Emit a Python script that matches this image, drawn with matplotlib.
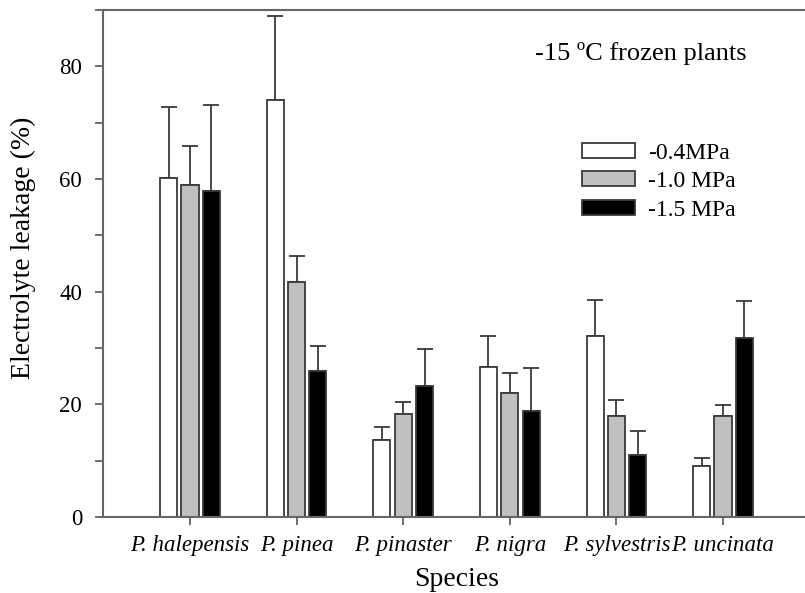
import matplotlib
matplotlib.use("Agg")
import matplotlib.pyplot as plt
import numpy as np
from matplotlib.patches import Patch
from matplotlib.ticker import MultipleLocator

species = ["P. halepensis", "P. pinea", "P. pinaster", "P. nigra", "P. sylvestris", "P. uncinata"]
series_labels = ["-0.4MPa", "-1.0 MPa", "-1.5 MPa"]
vals_04 = [60.2, 74.0, 13.6, 26.7, 32.2, 9.0]
err_04 = [12.5, 14.9, 2.4, 5.4, 6.4, 1.4]
vals_10 = [58.9, 41.8, 18.2, 22.1, 18.0, 18.0]
err_10 = [7.0, 4.5, 2.2, 3.4, 2.7, 1.9]
vals_15 = [57.8, 26.0, 23.3, 18.9, 11.0, 31.8]
err_15 = [15.4, 4.3, 6.6, 7.6, 4.3, 6.6]

fills = ["white", "#c0c0c0", "black"]
edge = "#3a3a3a"
serif = ["Liberation Serif", "DejaVu Serif"]
plt.rcParams['font.family'] = serif

fig = plt.figure(figsize=(8.05, 5.93), dpi=100)
ax = fig.add_axes([103/805, 1 - 517/593, (810-103)/805, (517-10)/593])

x = np.arange(len(species))
w = 0.16
off = 0.2
for i, (v, e) in enumerate([(vals_04, err_04), (vals_10, err_10), (vals_15, err_15)]):
    xp = x + (i - 1) * off
    ax.bar(xp, v, width=w, color=fills[i], edgecolor=edge, linewidth=1.3, zorder=2)
    ax.errorbar(xp, v, yerr=[np.zeros(len(e)), e], fmt="none", ecolor=edge,
                elinewidth=1.3, capsize=5.8, capthick=1.3, zorder=1)

ax.set_xlim(-0.816, 5.816)
ax.set_ylim(0, 90)
ax.set_xticks(x)
ax.set_xticklabels(species, fontsize=16.5, style="italic")
ax.yaxis.set_major_locator(MultipleLocator(20))
ax.yaxis.set_minor_locator(MultipleLocator(10))
ax.tick_params(axis="y", which="both", direction="out", length=6, width=1.2, color="#555555",
               labelsize=16.5, pad=9, right=False)
ax.tick_params(axis="y", which="minor", right=True)
ax.tick_params(axis="x", direction="out", length=6, width=1.2, color="#555555", pad=7)
for s in ax.spines.values():
    s.set_color("#666666")
    s.set_linewidth(1.5)

ax.set_ylabel("Electrolyte leakage (%)", fontsize=20, va="center")
ax.yaxis.set_label_coords(-0.113, 0.53)
ax.set_xlabel("Species", fontsize=20, labelpad=8)

ax.text(0.761, 0.915, "-15 ºC frozen plants", transform=ax.transAxes, fontsize=19,
        ha="center", va="center")

handles = [Patch(facecolor=fills[i], edgecolor=edge, linewidth=1.3) for i in range(3)]
leg = ax.legend(handles, series_labels, loc="upper left", bbox_to_anchor=(0.664, 0.757),
                frameon=False, fontsize=17, handlelength=2.27, handleheight=0.59,
                labelspacing=0.32, handletextpad=0.55, borderaxespad=0)

fig.savefig("out.png", dpi=100)
